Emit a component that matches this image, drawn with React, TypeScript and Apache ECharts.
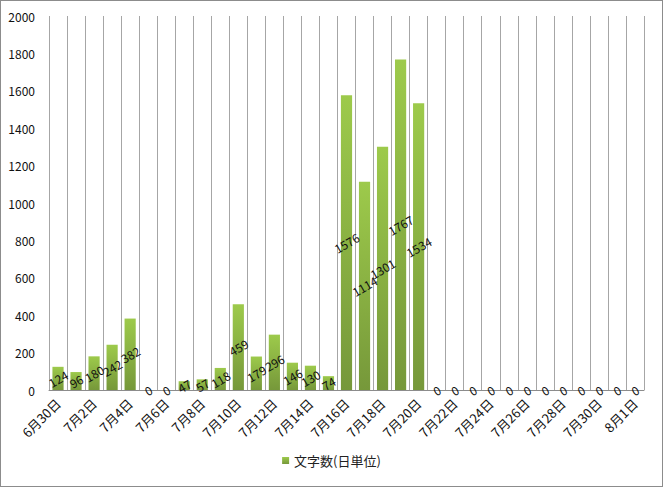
import React, { useEffect, useRef } from "react";
import * as echarts from "echarts";

const categories: string[] = [
  "6月30日", "7月1日", "7月2日", "7月3日", "7月4日", "7月5日", "7月6日", "7月7日", "7月8日",
  "7月9日", "7月10日", "7月11日", "7月12日", "7月13日", "7月14日", "7月15日", "7月16日",
  "7月17日", "7月18日", "7月19日", "7月20日", "7月21日", "7月22日", "7月23日", "7月24日",
  "7月25日", "7月26日", "7月27日", "7月28日", "7月29日", "7月30日", "7月31日", "8月1日",
];
const charCounts: number[] = [
  124, 96, 180, 242, 382, 0, 0, 47, 57, 118, 459, 179, 296, 146, 130, 74, 1576,
  1114, 1301, 1767, 1534, 0, 0, 0, 0, 0, 0, 0, 0, 0, 0, 0, 0,
];
const seriesName = "文字数(日単位)";
const yMin = 0;
const yMax = 2000;
const yStep = 200;

const FONT = "'Noto Sans CJK JP', 'Noto Sans', sans-serif";

export default function App() {
  const ref = useRef<HTMLDivElement>(null);
  useEffect(() => {
    document.body.style.margin = "0";
    const chart = echarts.init(ref.current!, null, { renderer: "svg" });
    chart.setOption({
      animation: false,
      backgroundColor: "#ffffff",
      textStyle: { fontFamily: FONT },
      grid: { left: 48, right: 18, top: 15, bottom: 96, containLabel: false },
      legend: {
        bottom: 14,
        left: "center",
        icon: "rect",
        itemWidth: 7,
        itemHeight: 7,
        itemGap: 4,
        textStyle: { fontSize: 13, color: "#222", fontFamily: FONT },
        data: [seriesName],
      },
      xAxis: {
        type: "category",
        data: categories,
        boundaryGap: true,
        axisLine: { show: true, lineStyle: { color: "#8c8c8c", width: 1 } },
        axisTick: { show: false },
        splitLine: { show: true, interval: 0, lineStyle: { color: "#a6a6a6", width: 1 } },
        axisLabel: {
          interval: 1,
          rotate: 45,
          fontSize: 13,
          color: "#111",
          margin: 11,
          fontFamily: FONT,
        },
      },
      yAxis: {
        type: "value",
        min: yMin,
        max: yMax,
        interval: yStep,
        axisLine: { show: false },
        axisTick: { show: false },
        splitLine: { show: false },
        axisLabel: {
          fontSize: 12,
          color: "#111",
          margin: 14,
          fontFamily: FONT,
          formatter: (v: number) => String(v),
        },
      },
      series: [
        {
          name: seriesName,
          type: "bar",
          data: charCounts,
          barCategoryGap: "38%",
          itemStyle: {
            color: new echarts.graphic.LinearGradient(0, 0, 0, 1, [
              { offset: 0, color: "#9dca4b" },
              { offset: 1, color: "#76983a" },
            ]),
          },
          label: {
            show: true,
            position: "inside",
            rotate: 30,
            fontSize: 12,
            color: "#111",
            fontFamily: FONT,
          },
        },
      ],
    });
    return () => chart.dispose();
  }, []);
  return (
    <div
      ref={ref}
      style={{
        position: "absolute",
        left: 0,
        top: 0,
        width: 663,
        height: 487,
        boxSizing: "border-box",
        border: "1px solid #8c8c8c",
      }}
    />
  );
}
